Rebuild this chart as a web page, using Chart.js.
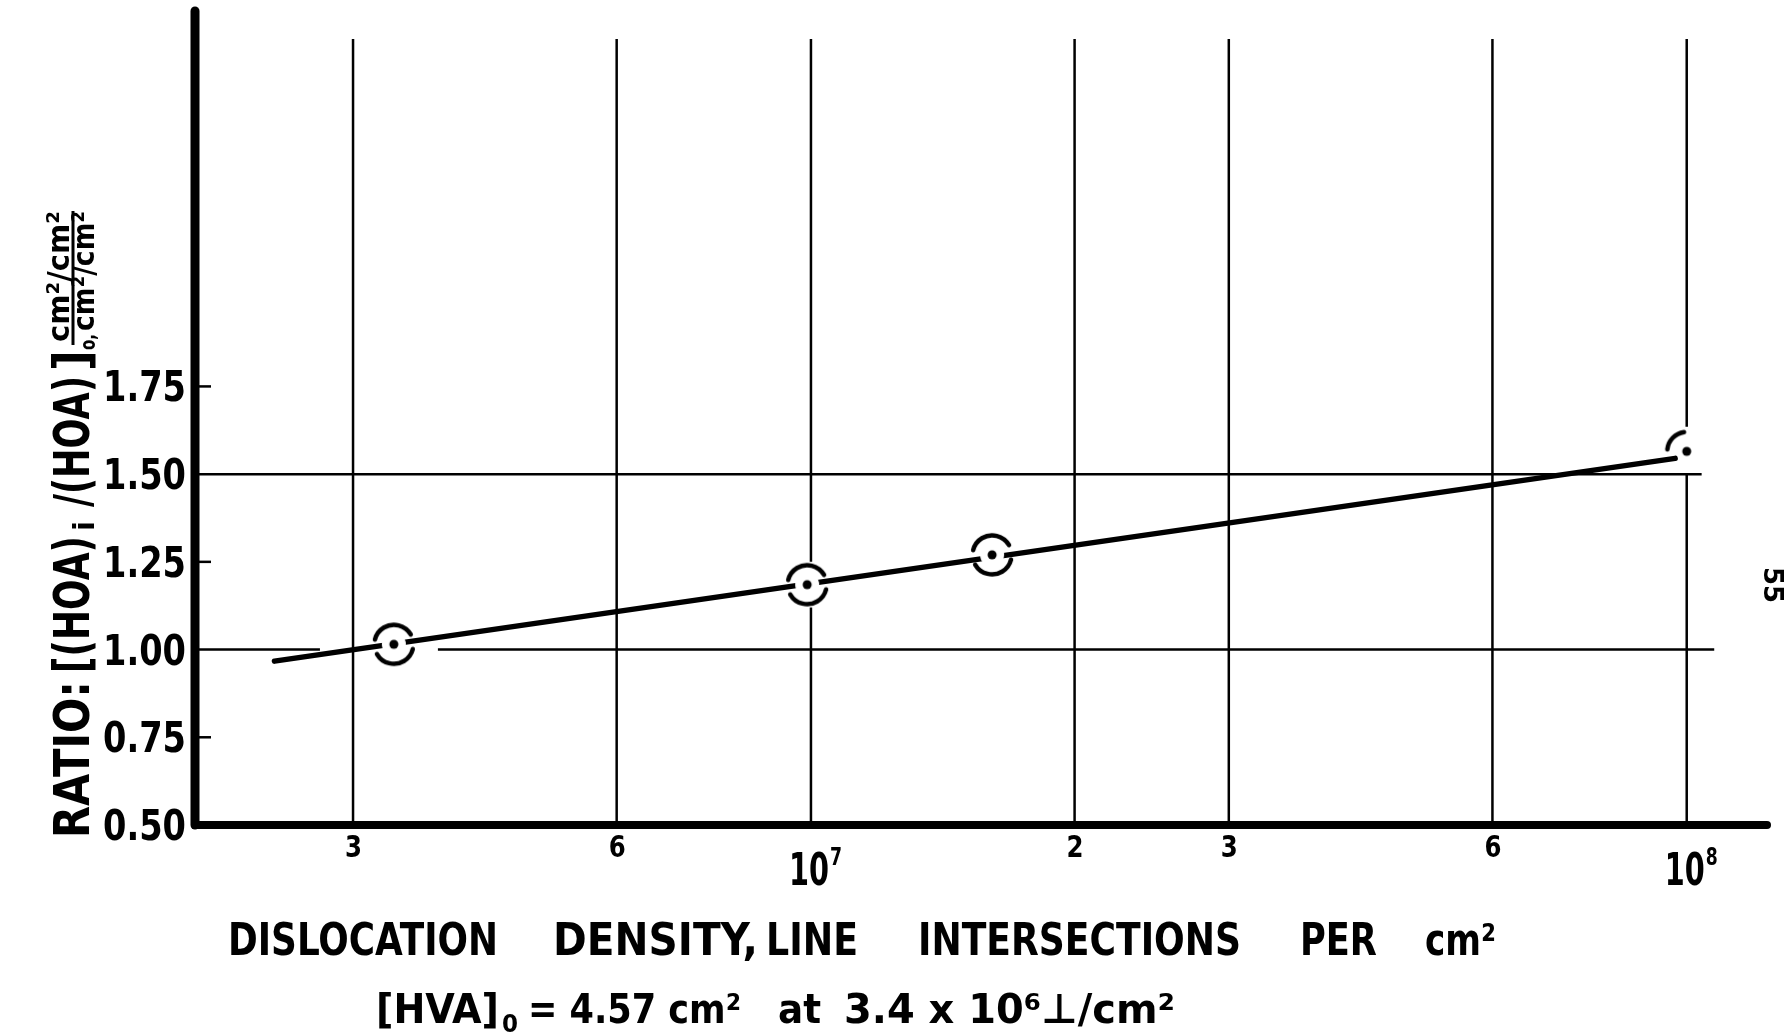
<!DOCTYPE html>
<html>
<head>
<meta charset="utf-8">
<script src="https://cdn.jsdelivr.net/npm/chart.js@4.4.0/dist/chart.umd.min.js"></script>
<style>
html, body { margin: 0; padding: 0; background: #fff; }
#wrap { width: 1788px; height: 1035px; position: relative; }
</style>
</head>
<body>
<div id="wrap"><canvas id="chart"></canvas></div>
<script>
// measured points: dislocation density (per cm2) vs HOA ratio
const densities = [3.34e6, 9.9e6, 1.61e7, 1.0e8];
const ratios = [1.015, 1.185, 1.27, 1.565];

// straight fitted line through the points
const fitDensities = [2.44e6, 9.7e7];
const fitRatios = [0.967, 1.545];

// axis ranges
const xMin = 1.98e6, xMax = 1.235e8;
const yMin = 0.5, yMax = 2.82;

// tick values and their labels
const xTicks = [3e6, 6e6, 1e7, 2e7, 3e7, 6e7, 1e8];
const xTickLabels = ["3", "6", "10", "2", "3", "6", "10"];
const xTickPowers = ["", "", "7", "", "", "", "8"];
const yTicks = [0.5, 0.75, 1.0, 1.25, 1.5, 1.75];
const yTickLabels = ["0.50", "0.75", "1.00", "1.25", "1.50", "1.75"];

// ruled lines across the plot
const vRuleTop = 2.74;
const vRuleGaps = [null, null, [1.12, 1.25], null, null, null, [1.5, 1.635]];
const hRuleLevels = [1.0, 1.5];
const hRuleSpans = [[[xMin, 2.75e6], [3.75e6, 1.075e8]], [[xMin, 1.04e8]]];
const shortTicks = [0.75, 1.25, 1.75];

const BOLD = '"DejaVu Sans", "Liberation Sans", sans-serif';
const COND = '"DejaVu Sans Condensed", "Liberation Sans Narrow", "DejaVu Sans", sans-serif';

// draw text squeezed/stretched to run from x0 to x1
function fitText(ctx, text, x0, x1, y, font) {
  ctx.font = font;
  const w = ctx.measureText(text).width;
  ctx.save();
  ctx.translate(x0, y);
  ctx.scale((x1 - x0) / w, 1);
  ctx.fillText(text, 0, 0);
  ctx.restore();
}

function makeMarker(arcs, clearR) {
  const c = document.createElement("canvas");
  c.width = 64; c.height = 64;
  const g = c.getContext("2d");
  if (clearR) {
    g.fillStyle = "#fff";
    g.beginPath(); g.arc(32, 32, clearR, 0, Math.PI * 2); g.fill();
  }
  g.strokeStyle = "#000";
  g.lineWidth = 4.5;
  g.lineCap = "round";
  arcs.forEach(([a0, a1]) => {
    g.beginPath();
    g.arc(32, 32, 19.5, a0 * Math.PI / 180, a1 * Math.PI / 180);
    g.stroke();
  });
  g.fillStyle = "#000";
  g.beginPath(); g.arc(32, 32, 4.5, 0, Math.PI * 2); g.fill();
  return c;
}

const ringMarker = makeMarker([[14, 150], [194, 330]], 12);
const edgeMarker = makeMarker([[186, 262]], 0);

const paperPlugin = {
  id: "paper",
  beforeDatasetsDraw(chart) {
    const { ctx, chartArea: a, scales: { x, y } } = chart;
    ctx.save();
    ctx.strokeStyle = "#000";
    ctx.lineWidth = 2.5;
    // vertical rules
    xTicks.forEach((v, i) => {
      const px = x.getPixelForValue(v);
      const top = y.getPixelForValue(vRuleTop);
      ctx.beginPath();
      if (vRuleGaps[i]) {
        ctx.moveTo(px, top);
        ctx.lineTo(px, y.getPixelForValue(vRuleGaps[i][1]));
        ctx.moveTo(px, y.getPixelForValue(vRuleGaps[i][0]));
      } else {
        ctx.moveTo(px, top);
      }
      ctx.lineTo(px, a.bottom);
      ctx.stroke();
    });
    // horizontal rules
    hRuleLevels.forEach((lv, i) => {
      const py = y.getPixelForValue(lv);
      hRuleSpans[i].forEach(([v0, v1]) => {
        ctx.beginPath();
        ctx.moveTo(x.getPixelForValue(v0), py);
        ctx.lineTo(x.getPixelForValue(v1), py);
        ctx.stroke();
      });
    });
    shortTicks.forEach(lv => {
      const py = y.getPixelForValue(lv);
      ctx.beginPath();
      ctx.moveTo(a.left, py);
      ctx.lineTo(a.left + 16, py);
      ctx.stroke();
    });
    ctx.restore();
  },
  afterDatasetsDraw(chart) {
    const { ctx, chartArea: a, scales: { x, y } } = chart;
    ctx.save();
    ctx.strokeStyle = "#000";
    ctx.fillStyle = "#000";
    ctx.lineCap = "round";

    // heavy axes
    ctx.lineWidth = 9;
    ctx.beginPath();
    ctx.moveTo(a.left, a.top);
    ctx.lineTo(a.left, a.bottom);
    ctx.stroke();
    ctx.lineWidth = 8;
    ctx.beginPath();
    ctx.moveTo(a.left, a.bottom);
    ctx.lineTo(a.right, a.bottom);
    ctx.stroke();

    // y tick labels
    ctx.textBaseline = "alphabetic";
    yTicks.forEach((v, i) => {
      const py = y.getPixelForValue(v);
      fitText(ctx, yTickLabels[i], a.left - 92, a.left - 9, py + 15, "bold 42px " + BOLD);
    });

    // x tick labels
    xTicks.forEach((v, i) => {
      const px = x.getPixelForValue(v);
      if (xTickPowers[i]) {
        fitText(ctx, xTickLabels[i], px - 22, px + 18, a.bottom + 60, "bold 44px " + BOLD);
        fitText(ctx, xTickPowers[i], px + 19, px + 31, a.bottom + 40, "bold 24px " + BOLD);
      } else {
        fitText(ctx, xTickLabels[i], px - 8, px + 9, a.bottom + 32, "bold 30px " + BOLD);
      }
    });

    // x axis title, two lines
    const f1 = "bold 44px " + COND;
    fitText(ctx, "DISLOCATION", 228, 498, 955, f1);
    fitText(ctx, "DENSITY,", 553, 758, 955, f1);
    fitText(ctx, "LINE", 766, 858, 955, f1);
    fitText(ctx, "INTERSECTIONS", 918, 1241, 955, f1);
    fitText(ctx, "PER", 1300, 1377, 955, f1);
    fitText(ctx, "cm\u00b2", 1425, 1496, 955, f1);

    const f2 = "bold 41px " + COND;
    fitText(ctx, "[HVA]", 376, 499, 1023, f2);
    fitText(ctx, "0", 502, 518, 1032, "bold 24px " + COND);
    fitText(ctx, "= 4.57 cm\u00b2", 528, 741, 1023, f2);
    fitText(ctx, "at", 778, 821, 1023, f2);
    fitText(ctx, "3.4 x 10\u2076\u22a5/cm\u00b2", 844, 1175, 1023, f2);

    // y axis title, rotated
    ctx.save();
    ctx.translate(89, 0);
    ctx.rotate(-Math.PI / 2);
    const fy = "bold 50px " + BOLD;
    fitText(ctx, "RATIO:", -838, -681, 0, fy);
    fitText(ctx, "[(HOA)", -673, -536, 0, fy);
    fitText(ctx, "i", -531, -521, 5, "bold 28px " + BOLD);
    fitText(ctx, "/(HOA)", -507, -376, 0, fy);
    fitText(ctx, "]", -371, -350, 0, fy);
    fitText(ctx, "o,", -350, -334, 6, "bold 22px " + BOLD);
    const ff = "bold 31px " + BOLD;
    fitText(ctx, "cm\u00b2/cm\u00b2", -342, -211, -20, ff);
    fitText(ctx, "cm\u00b2/cm\u00b2", -331, -211, 5, ff);
    ctx.lineWidth = 3;
    ctx.lineCap = "butt";
    ctx.beginPath();
    ctx.moveTo(-345, -16);
    ctx.lineTo(-211, -16);
    ctx.stroke();
    ctx.restore();

    // page number at the right margin
    ctx.save();
    ctx.translate(1771, 585);
    ctx.rotate(Math.PI / 2);
    ctx.font = "bold 26px " + BOLD;
    ctx.textAlign = "center";
    ctx.textBaseline = "middle";
    ctx.fillText("55", 0, 0);
    ctx.restore();

    ctx.restore();
  }
};

new Chart(document.getElementById("chart"), {
  type: "scatter",
  data: {
    datasets: [
      {
        label: "Measured",
        data: densities.map((d, i) => ({ x: d, y: ratios[i] })),
        pointStyle: [ringMarker, ringMarker, ringMarker, edgeMarker],
        pointRadius: 20,
        showLine: false
      },
      {
        label: "Fit",
        data: fitDensities.map((d, i) => ({ x: d, y: fitRatios[i] })),
        showLine: true,
        borderColor: "#000",
        borderWidth: 5.5,
        borderCapStyle: "round",
        pointRadius: 0
      }
    ]
  },
  options: {
    responsive: true,
    maintainAspectRatio: false,
    animation: false,
    events: [],
    layout: { autoPadding: false, padding: { top: 11, right: 21, left: 0, bottom: 0 } },
    plugins: { legend: { display: false }, tooltip: { enabled: false } },
    scales: {
      x: {
        type: "logarithmic",
        min: xMin,
        max: xMax,
        grid: { display: false },
        border: { display: false },
        ticks: { display: false },
        afterFit: s => { s.height = 210; }
      },
      y: {
        type: "linear",
        min: yMin,
        max: yMax,
        grid: { display: false },
        border: { display: false },
        ticks: { display: false },
        afterFit: s => { s.width = 195; }
      }
    }
  },
  plugins: [paperPlugin]
});
</script>
</body>
</html>
